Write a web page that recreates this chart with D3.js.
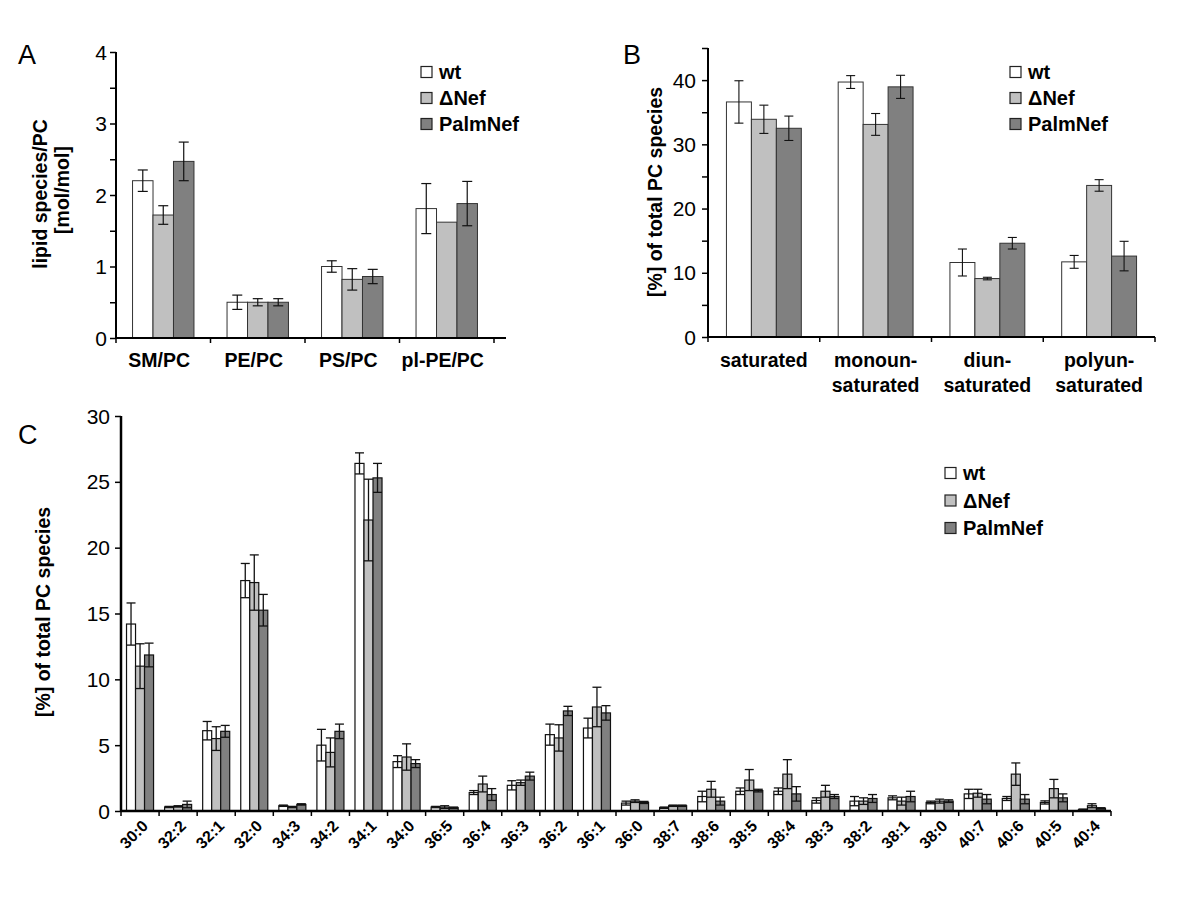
<!DOCTYPE html>
<html>
<head>
<meta charset="utf-8">
<script src="https://d3js.org/d3.v7.min.js"></script>
<style>
  html, body { margin: 0; padding: 0; background: #fff; }
  svg { display: block; font-family: "Liberation Sans", Arial, sans-serif; }
</style>
</head>
<body>
<svg id="chart" width="1200" height="901"></svg>
<script>
// ---------- Data ----------
const seriesNames = ["wt", "\u0394Nef", "PalmNef"];
const seriesColors = ["#ffffff", "#c0c0c0", "#808080"];

// Panel A
const catsA = ["SM/PC", "PE/PC", "PS/PC", "pl-PE/PC"];
const wtA = [2.2, 0.5, 1.0, 1.81];
const dnefA = [1.72, 0.5, 0.82, 1.62];
const palmA = [2.47, 0.5, 0.86, 1.88];
const wtAErr = [0.15, 0.1, 0.08, 0.35];
const dnefAErr = [0.13, 0.05, 0.15, 0];
const palmAErr = [0.27, 0.05, 0.1, 0.31];
const ticksA = [0, 1, 2, 3, 4];

// Panel B
const catsB = [["saturated"], ["monoun-", "saturated"], ["diun-", "saturated"], ["polyun-", "saturated"]];
const wtB = [36.6, 39.7, 11.6, 11.7];
const dnefB = [33.9, 33.1, 9.1, 23.6];
const palmB = [32.5, 38.95, 14.6, 12.6];
const wtBErr = [3.3, 1.0, 2.1, 1.0];
const dnefBErr = [2.2, 1.7, 0.2, 0.9];
const palmBErr = [1.9, 1.8, 0.9, 2.3];
const ticksB = [0, 10, 20, 30, 40];

// Panel C
const catsC = ["30:0", "32:2", "32:1", "32:0", "34:3", "34:2", "34:1", "34:0", "36:5", "36:4", "36:3", "36:2", "36:1",
  "36:0", "38:7", "38:6", "38:5", "38:4", "38:3", "38:2", "38:1", "38:0", "40:7", "40:6", "40:5", "40:4"];
const wtC = [14.2, 0.3, 6.1, 17.5, 0.4, 5.0, 26.4, 3.75, 0.3, 1.4, 1.95, 5.8, 6.3, 0.6, 0.25, 1.1, 1.5, 1.5, 0.8, 0.75, 1.0, 0.65, 1.3, 0.95, 0.65, 0.1];
const wtCErr = [1.6, 0.05, 0.7, 1.3, 0.05, 1.2, 0.8, 0.45, 0.05, 0.15, 0.35, 0.8, 0.75, 0.15, 0.05, 0.4, 0.25, 0.25, 0.2, 0.35, 0.15, 0.1, 0.35, 0.15, 0.12, 0.05];
const dnefC = [11.0, 0.35, 5.5, 17.35, 0.3, 4.45, 22.1, 4.1, 0.3, 2.05, 2.15, 5.55, 7.9, 0.75, 0.4, 1.65, 2.35, 2.8, 1.5, 0.75, 0.75, 0.75, 1.35, 2.8, 1.7, 0.4];
const dnefCErr = [1.7, 0.05, 0.9, 2.1, 0.05, 1.1, 3.1, 1.0, 0.1, 0.6, 0.2, 1.0, 1.5, 0.1, 0.05, 0.6, 0.8, 1.1, 0.45, 0.25, 0.3, 0.15, 0.3, 0.85, 0.7, 0.15];
const palmC = [11.85, 0.5, 6.05, 15.25, 0.5, 6.05, 25.3, 3.6, 0.25, 1.25, 2.65, 7.6, 7.45, 0.65, 0.4, 0.75, 1.55, 1.3, 1.1, 0.95, 1.1, 0.75, 0.9, 0.9, 1.0, 0.2];
const palmCErr = [0.9, 0.25, 0.45, 1.2, 0.05, 0.55, 1.1, 0.3, 0.05, 0.45, 0.3, 0.35, 0.55, 0.08, 0.05, 0.3, 0.1, 0.55, 0.15, 0.3, 0.4, 0.1, 0.35, 0.35, 0.3, 0.05];
const ticksC = [0, 5, 10, 15, 20, 25, 30];

// ---------- Drawing ----------
const svg = d3.select("#chart");
svg.append("rect").attr("width", 1200).attr("height", 901).attr("fill", "#fff");

function panel(cfg) {
  const g = svg.append("g");
  const n = cfg.cats.length;
  const x = d3.scaleBand().domain(d3.range(n)).range([cfg.x0, cfg.x1]).paddingInner(0).paddingOuter(0);
  const xs = d3.scaleBand().domain(d3.range(3)).range([0, x.bandwidth() * cfg.groupFrac]);
  const y = d3.scaleLinear().domain([0, cfg.ymax]).range([cfg.y0, cfg.yTop]);
  const groupOff = (x.bandwidth() - xs.range()[1]) / 2;
  const vals = [cfg.wt, cfg.dnef, cfg.palm];
  const errs = [cfg.wtErr, cfg.dnefErr, cfg.palmErr];

  // bars
  vals.forEach((arr, s) => {
    g.selectAll(null).data(arr).enter().append("rect")
      .attr("x", (d, i) => x(i) + groupOff + xs(s))
      .attr("y", d => y(d))
      .attr("width", xs.bandwidth())
      .attr("height", d => y(0) - y(d))
      .attr("fill", seriesColors[s])
      .attr("stroke", cfg.barStroke)
      .attr("stroke-width", cfg.barStrokeW);
  });
  // error bars
  vals.forEach((arr, s) => {
    arr.forEach((v, i) => {
      const e = errs[s][i];
      if (!e) return;
      const cx = x(i) + groupOff + xs(s) + xs.bandwidth() / 2;
      const hw = cfg.capW / 2;
      const eg = g.append("g").attr("stroke", "#111").attr("stroke-width", cfg.errW);
      eg.append("line").attr("x1", cx).attr("x2", cx).attr("y1", y(v - e)).attr("y2", y(v + e));
      eg.append("line").attr("x1", cx - hw).attr("x2", cx + hw).attr("y1", y(v + e)).attr("y2", y(v + e));
      eg.append("line").attr("x1", cx - hw).attr("x2", cx + hw).attr("y1", y(v - e)).attr("y2", y(v - e));
    });
  });

  // y axis
  const yAxis = d3.axisLeft(y).tickValues(cfg.minorTicks).tickSize(cfg.tickLen).tickFormat("");
  const ya = g.append("g").attr("transform", `translate(${cfg.x0},0)`).call(yAxis);
  ya.select(".domain").remove();
  ya.selectAll(".tick line").attr("stroke", "#000").attr("stroke-width", 1.5);
  g.append("line").attr("x1", cfg.x0).attr("x2", cfg.x0).attr("y1", cfg.y0 + 1).attr("y2", cfg.yTop)
    .attr("stroke", "#000").attr("stroke-width", cfg.axisW);
  g.selectAll(null).data(cfg.ticks).enter().append("text")
    .attr("x", cfg.x0 - cfg.tickLabelGap).attr("y", d => y(d)).attr("dy", "0.36em")
    .attr("text-anchor", "end").attr("font-size", cfg.tickFont).attr("fill", "#000")
    .text(d => d);

  // x axis
  const xAxis = d3.axisBottom(x).tickValues([]).tickSize(0);
  g.append("g").attr("transform", `translate(0,${cfg.y0})`).call(xAxis).select(".domain").remove();
  g.append("line").attr("x1", cfg.x0).attr("x2", cfg.xAxisEnd).attr("y1", cfg.y0).attr("y2", cfg.y0)
    .attr("stroke", "#000").attr("stroke-width", cfg.axisW);
  const bounds = d3.range(n + 1).map(i => cfg.x0 + i * x.bandwidth());
  g.selectAll(null).data(bounds).enter().append("line")
    .attr("x1", d => d).attr("x2", d => d).attr("y1", cfg.y0).attr("y2", cfg.y0 + 5)
    .attr("stroke", "#000").attr("stroke-width", 1.5);

  return { g, x, y };
}

function legend(x0, y0, gap, fs) {
  const lg = svg.append("g");
  seriesNames.forEach((nm, i) => {
    lg.append("rect").attr("x", x0).attr("y", y0 + i * gap - 5.5).attr("width", 11).attr("height", 11)
      .attr("fill", seriesColors[i]).attr("stroke", "#222").attr("stroke-width", 1.2);
    lg.append("text").attr("x", x0 + 18).attr("y", y0 + i * gap).attr("dy", "0.36em")
      .attr("font-size", fs).attr("font-weight", "bold").text(nm);
  });
}

// Panel A
const pA = panel({
  cats: catsA, wt: wtA, dnef: dnefA, palm: palmA, wtErr: wtAErr, dnefErr: dnefAErr, palmErr: palmAErr,
  x0: 116, x1: 494, xAxisEnd: 506, y0: 338, yTop: 52, ymax: 4, groupFrac: 0.65,
  ticks: ticksA, minorTicks: d3.range(0, 4.01, 0.5), tickLen: 6, tickFont: 21, tickLabelGap: 9,
  barStroke: "#333", barStrokeW: 1, capW: 10, errW: 1.2, axisW: 2
});
pA.g.selectAll(null).data(catsA).enter().append("text")
  .attr("x", (d, i) => pA.x(i) + pA.x.bandwidth() / 2 - 4).attr("y", 367)
  .attr("text-anchor", "middle").attr("font-size", 19.5).attr("font-weight", "bold").text(d => d);
svg.append("text").attr("x", 18).attr("y", 64).attr("font-size", 27).text("A");
svg.append("text").attr("transform", "translate(47,194) rotate(-90)").attr("text-anchor", "middle")
  .attr("font-size", 19.5).attr("font-weight", "bold").text("lipid species/PC");
svg.append("text").attr("transform", "translate(69,190) rotate(-90)").attr("text-anchor", "middle")
  .attr("font-size", 19.5).attr("font-weight", "bold").text("[mol/mol]");
legend(421, 72, 26, 20);

// Panel B
const pB = panel({
  cats: catsB, wt: wtB, dnef: dnefB, palm: palmB, wtErr: wtBErr, dnefErr: dnefBErr, palmErr: palmBErr,
  x0: 708, x1: 1155, xAxisEnd: 1155, y0: 337, yTop: 48, ymax: 45, groupFrac: 0.67,
  ticks: ticksB, minorTicks: d3.range(0, 45.01, 5), tickLen: 6, tickFont: 21, tickLabelGap: 12,
  barStroke: "#333", barStrokeW: 1, capW: 9, errW: 1.1, axisW: 2
});
catsB.forEach((lines, i) => {
  lines.forEach((t, j) => {
    pB.g.append("text").attr("x", pB.x(i) + pB.x.bandwidth() / 2).attr("y", 367 + j * 25)
      .attr("text-anchor", "middle").attr("font-size", 19.5).attr("font-weight", "bold").text(t);
  });
});
svg.append("text").attr("x", 623).attr("y", 64).attr("font-size", 27).text("B");
svg.append("text").attr("transform", "translate(662,192) rotate(-90)").attr("text-anchor", "middle")
  .attr("font-size", 19.5).attr("font-weight", "bold").text("[%] of total PC species");
legend(1010, 72, 26, 20);

// Panel C
const pC = panel({
  cats: catsC, wt: wtC, dnef: dnefC, palm: palmC, wtErr: wtCErr, dnefErr: dnefCErr, palmErr: palmCErr,
  x0: 121, x1: 1111, xAxisEnd: 1111, y0: 811, yTop: 416, ymax: 30, groupFrac: 0.71,
  ticks: ticksC, minorTicks: ticksC, tickLen: 6, tickFont: 21, tickLabelGap: 11,
  barStroke: "#111", barStrokeW: 1.2, capW: 9, errW: 1.3, axisW: 2.5
});
pC.g.selectAll(null).data(catsC).enter().append("text")
  .attr("transform", (d, i) => `translate(${pC.x(i) + pC.x.bandwidth() / 2 + 9},827) rotate(-45)`)
  .attr("text-anchor", "end").attr("font-size", 16).attr("font-weight", "bold").text(d => d);
svg.append("text").attr("x", 18).attr("y", 444).attr("font-size", 27).text("C");
svg.append("text").attr("transform", "translate(50,612) rotate(-90)").attr("text-anchor", "middle")
  .attr("font-size", 19.5).attr("font-weight", "bold").text("[%] of total PC species");
legend(945, 473, 27.5, 20);
</script>
</body>
</html>
